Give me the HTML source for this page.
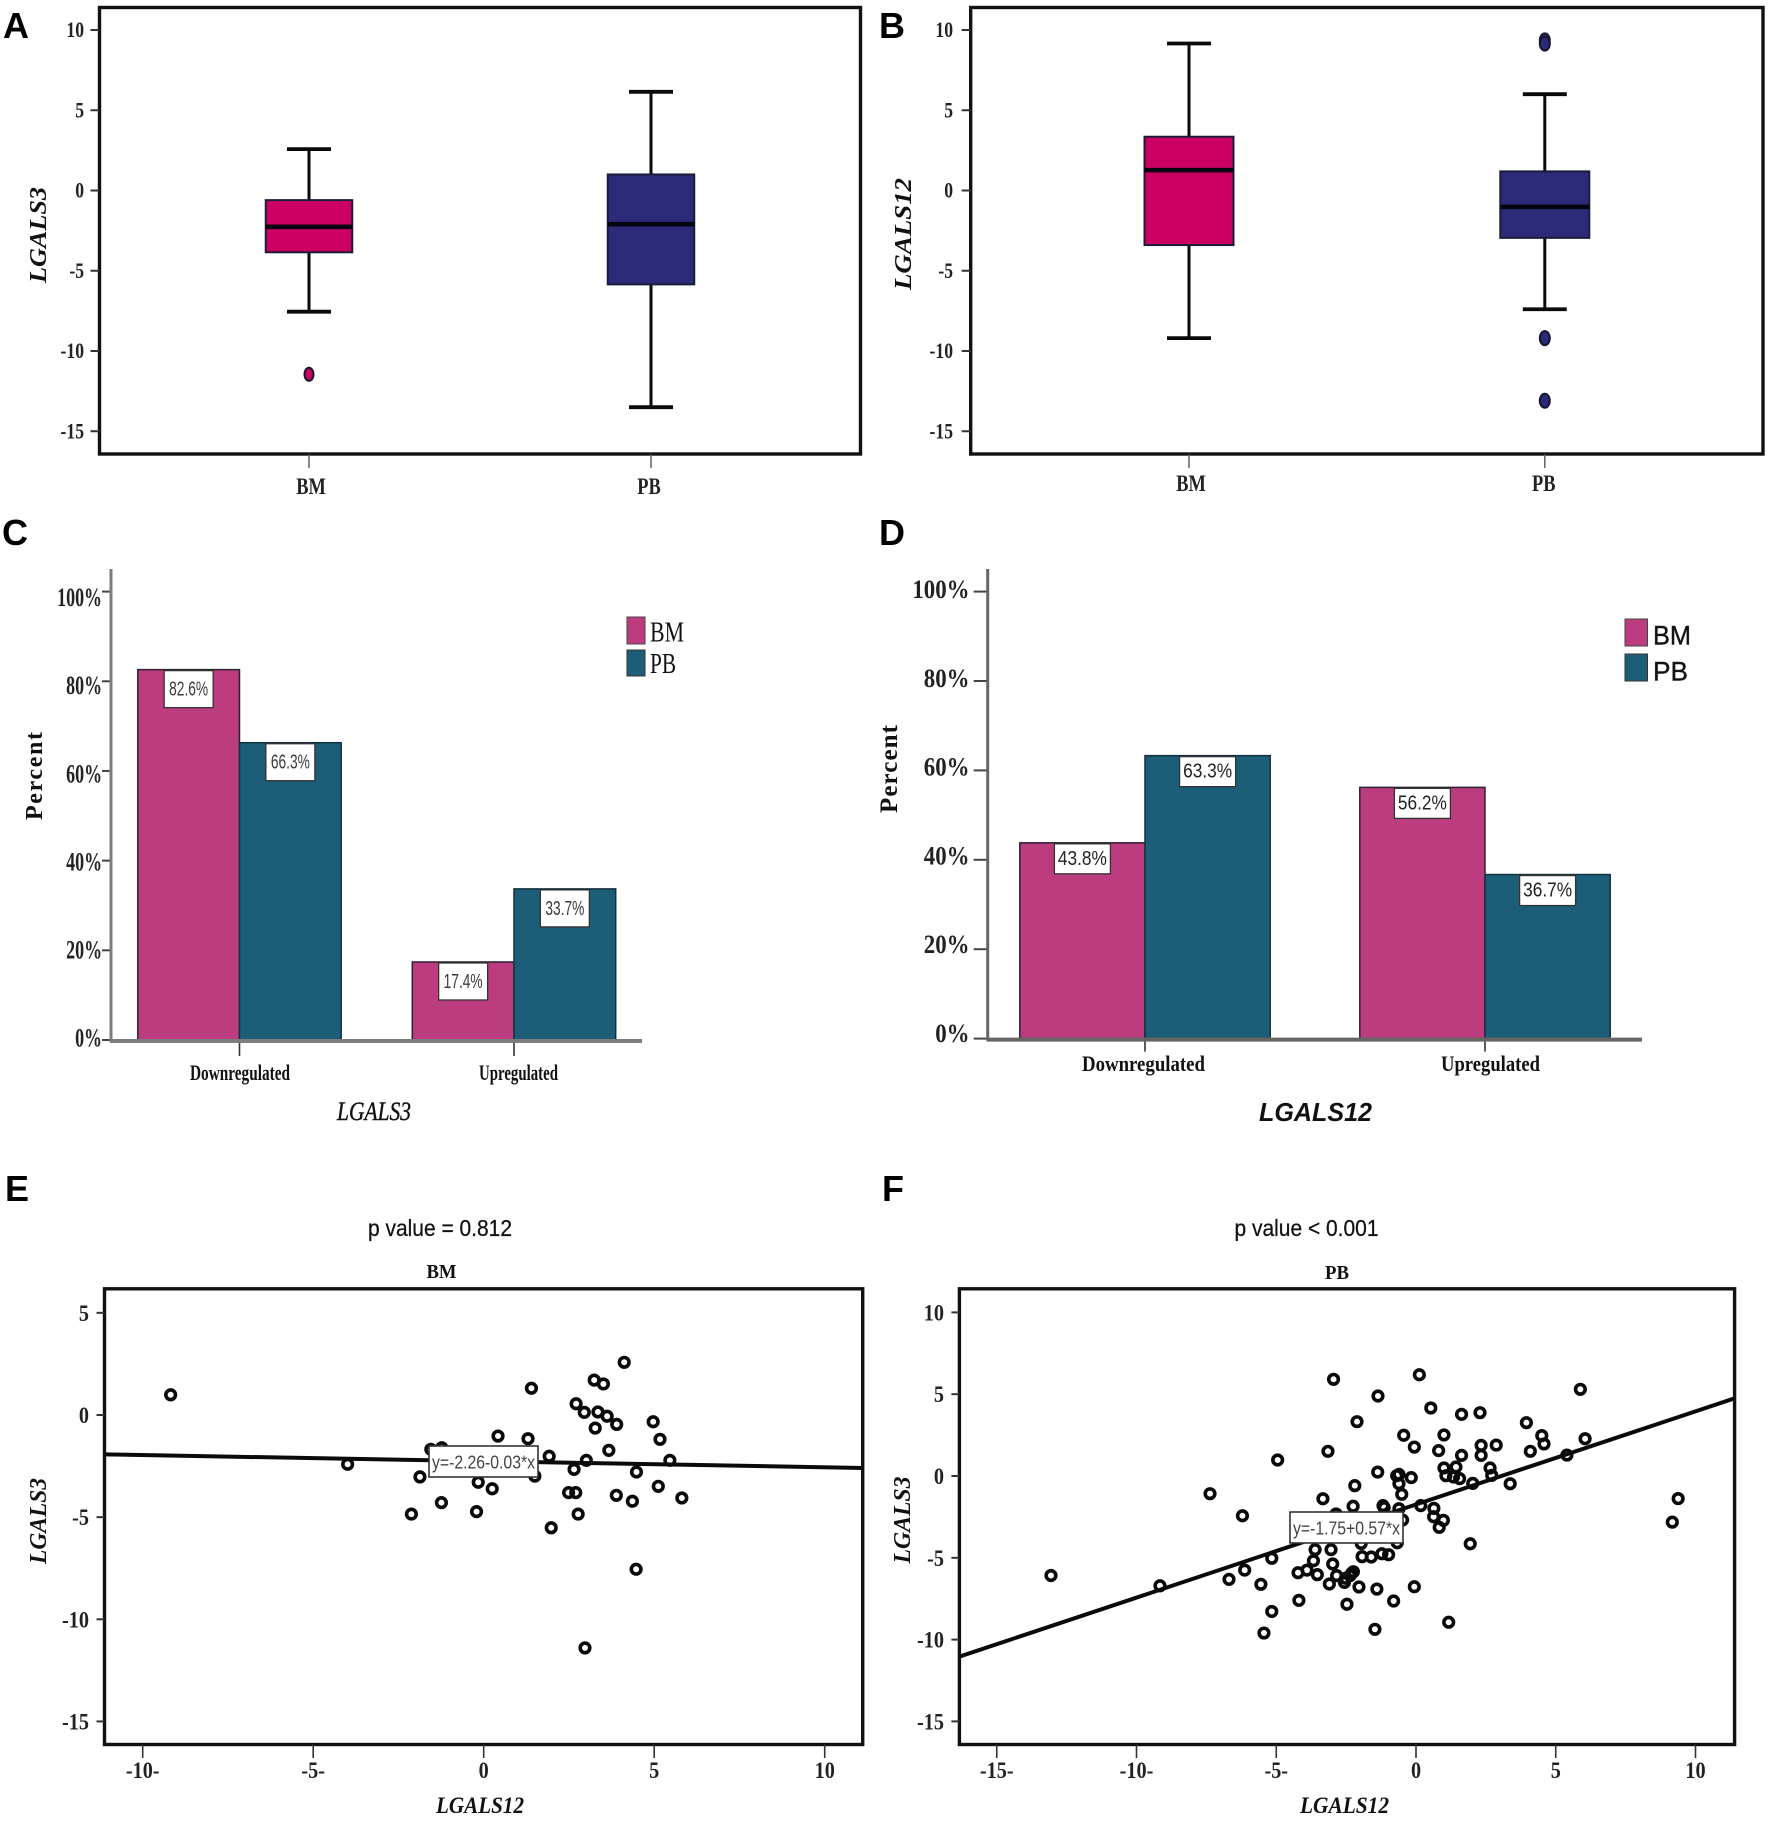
<!DOCTYPE html>
<html lang="en">
<head>
<meta charset="utf-8">
<title>LGALS3 and LGALS12 expression in BM and PB</title>
<style>
html,body{margin:0;padding:0;background:#fff;}
svg{display:block;}
text{font-family:"Liberation Serif",serif;fill:#111;}
.sans{font-family:"Liberation Sans",sans-serif;}
.letter{font-family:"Liberation Sans",sans-serif;font-weight:bold;font-size:36px;fill:#000;}
.frame{fill:none;stroke:#111;stroke-width:3.4;}
.ttl{font-weight:bold;font-style:italic;}
</style>
</head>
<body>
<svg id="figure" xmlns="http://www.w3.org/2000/svg" width="1772" height="1833" viewBox="0 0 1772 1833">
<rect width="1772" height="1833" fill="#fff"/>

<g id="panel-a">
<text class="letter" x="3" y="38">A</text>
<rect class="frame" x="99.5" y="7.5" width="761" height="446.5"/>
<text class="ttl" transform="translate(46 235) rotate(-90)" text-anchor="middle" font-size="24" textLength="96" lengthAdjust="spacingAndGlyphs">LGALS3</text>
</g>

<g id="panel-b">
<text class="letter" x="879" y="38">B</text>
<rect class="frame" x="970.7" y="7.5" width="792.3" height="446.5"/>
<text class="ttl" transform="translate(911 234) rotate(-90)" text-anchor="middle" font-size="24" textLength="112" lengthAdjust="spacingAndGlyphs">LGALS12</text>
</g>

<g id="panel-c">
<text class="letter" x="2" y="545">C</text>
<text transform="translate(42 776) rotate(-90)" text-anchor="middle" font-size="24" font-weight="bold" textLength="88" lengthAdjust="spacing">Percent</text>
<text x="374" y="1120" text-anchor="middle" font-size="26" font-style="italic" stroke="#111" stroke-width="0.4" textLength="74" lengthAdjust="spacingAndGlyphs">LGALS3</text>
<rect x="627" y="617" width="18" height="27" fill="#BC3D7F" stroke="#444" stroke-width="1"/>
<rect x="627" y="650" width="18" height="26" fill="#1C5E78" stroke="#333" stroke-width="1"/>
<text x="650" y="641.5" font-size="28" fill="#222" textLength="34" lengthAdjust="spacingAndGlyphs">BM</text>
<text x="650" y="673" font-size="28" fill="#222" textLength="26" lengthAdjust="spacingAndGlyphs">PB</text>
</g>

<g id="panel-d">
<text class="letter" x="879" y="545">D</text>
<text transform="translate(897 769) rotate(-90)" text-anchor="middle" font-size="25" font-weight="bold" textLength="88" lengthAdjust="spacing">Percent</text>
<text class="sans" x="1315.5" y="1121" text-anchor="middle" font-size="26" font-weight="bold" font-style="italic" fill="#222" textLength="113" lengthAdjust="spacingAndGlyphs">LGALS12</text>
<rect x="1625" y="619" width="22.5" height="27" fill="#BC3D7F" stroke="#444" stroke-width="1"/>
<rect x="1625" y="654" width="22.5" height="27" fill="#1C5E78" stroke="#333" stroke-width="1"/>
<text class="sans" x="1653" y="644.7" font-size="27" fill="#222" stroke="#222" stroke-width="0.4" textLength="38" lengthAdjust="spacingAndGlyphs">BM</text>
<text class="sans" x="1653" y="680.5" font-size="27" fill="#222" stroke="#222" stroke-width="0.4" textLength="35" lengthAdjust="spacingAndGlyphs">PB</text>
</g>

<g id="panel-e">
<text class="letter" x="5" y="1201">E</text>
<text class="sans" x="440" y="1236" text-anchor="middle" font-size="23" fill="#222" stroke="#222" stroke-width="0.3" textLength="144" lengthAdjust="spacingAndGlyphs">p value = 0.812</text>
<text x="441.5" y="1278" text-anchor="middle" font-size="20" font-weight="bold" textLength="30" lengthAdjust="spacingAndGlyphs">BM</text>
<rect class="frame" x="104.5" y="1288.8" width="758.2" height="455.7"/>
<text class="ttl" x="480" y="1813" text-anchor="middle" font-size="23" textLength="88" lengthAdjust="spacingAndGlyphs">LGALS12</text>
<text class="ttl" transform="translate(46 1521) rotate(-90)" text-anchor="middle" font-size="24" textLength="86" lengthAdjust="spacingAndGlyphs">LGALS3</text>
</g>

<g id="panel-f">
<text class="letter" x="882" y="1201">F</text>
<text class="sans" x="1306.5" y="1236" text-anchor="middle" font-size="23" fill="#222" stroke="#222" stroke-width="0.3" textLength="144" lengthAdjust="spacingAndGlyphs">p value &lt; 0.001</text>
<text x="1337" y="1279" text-anchor="middle" font-size="20" font-weight="bold" textLength="24" lengthAdjust="spacingAndGlyphs">PB</text>
<rect class="frame" x="959.4" y="1288.8" width="775.2" height="455.7"/>
<text class="ttl" x="1344.5" y="1813" text-anchor="middle" font-size="23" textLength="89" lengthAdjust="spacingAndGlyphs">LGALS12</text>
<text class="ttl" transform="translate(910 1520) rotate(-90)" text-anchor="middle" font-size="24" textLength="87" lengthAdjust="spacingAndGlyphs">LGALS3</text>
</g>
</svg>

<script>
// ---------- data ----------
const boxCategories = ['BM', 'PB'];
const boxTickValues = [10, 5, 0, -5, -10, -15];
const boxTickLabels = ['10', '5', '0', '-5', '-10', '-15'];

// five-number summaries: low whisker, Q1, median, Q3, high whisker
const panelAStatsBM = [-7.55, -3.85, -2.26, -0.6, 2.58];
const panelAStatsPB = [-13.5, -5.85, -2.1, 1.0, 6.15];
const panelAOutliersBM = [-11.45];
const panelAOutliersPB = [];

const panelBStatsBM = [-9.2, -3.4, 1.27, 3.35, 9.16];
const panelBStatsPB = [-7.4, -2.95, -1.02, 1.19, 6.0];
const panelBOutliersBM = [];
const panelBOutliersPB = [9.35, 9.15, -9.2, -13.1];

const barCategories = ['Downregulated', 'Upregulated'];
const barTickValues = [100, 80, 60, 40, 20, 0];
const barTickLabels = ['100%', '80%', '60%', '40%', '20%', '0%'];
const panelCBM = [82.6, 17.4];
const panelCPB = [66.3, 33.7];
const panelDBM = [43.8, 56.2];
const panelDPB = [63.3, 36.7];

const panelEYTicks = [5, 0, -5, -10, -15];
const panelEYLabels = ['5', '0', '-5', '-10', '-15'];
const panelEXTicks = [-10, -5, 0, 5, 10];
const panelEXLabels = ['-10-', '-5-', '0', '5', '10'];
const panelEFit = [-2.26, -0.03];
const panelEX = [4.12,3.24,3.51,1.40,2.71,2.95,3.35,3.62,3.90,3.27,4.97,5.17,0.42,1.30,-1.55,-1.23,3.67,1.92,3.01,5.46,2.65,4.48,-1.87,1.50,-0.16,0.25,5.12,2.49,2.70,3.89,4.36,5.81,-1.24,-2.12,-0.21,2.77,1.98,4.47,2.97,-9.18,-3.99];
const panelEY = [2.58,1.71,1.52,1.31,0.55,0.13,0.15,-0.06,-0.46,-0.64,-0.33,-1.19,-1.03,-1.16,-1.68,-1.6,-1.73,-2.02,-2.22,-2.22,-2.66,-2.79,-3.03,-2.99,-3.29,-3.61,-3.49,-3.80,-3.80,-3.93,-4.22,-4.06,-4.29,-4.85,-4.73,-4.85,-5.52,-7.55,-11.4,0.99,-2.41];

const panelFYTicks = [10, 5, 0, -5, -10, -15];
const panelFYLabels = ['10', '5', '0', '-5', '-10', '-15'];
const panelFXTicks = [-15, -10, -5, 0, 5, 10];
const panelFXLabels = ['-15-', '-10-', '-5-', '0', '5', '10'];
const panelFFit = [-1.75, 0.57];
const panelFX = [-2.95,0.12,5.88,-1.36,0.53,1.63,2.29,-2.11,3.95,4.50,4.58,1.00,-0.44,6.05,-0.06,2.87,2.33,2.33,0.81,4.09,-3.15,1.63,5.40,-4.95,1.00,1.43,2.65,-1.37,-0.61,-0.69,-0.17,1.07,1.34,1.56,2.71,-0.61,2.03,3.37,-2.19,-0.51,-7.37,-3.33,-1.18,-1.14,-2.25,0.17,-0.61,0.64,0.63,0.98,-0.48,0.83,-6.21,-2.86,1.94,-3.61,-3.04,-1.96,-0.67,-1.93,-1.60,-1.22,-0.98,-5.16,-3.67,-2.98,-6.13,-4.22,-3.90,-3.53,-2.84,-2.24,-2.30,-2.36,-2.52,-2.56,-3.10,-2.04,-1.40,-0.06,-6.69,-5.55,-4.19,-2.47,-0.80,-5.16,-5.44,-1.47,1.17,-13.06,-9.16,9.17,9.38];
const panelFY = [5.91,6.19,5.30,4.89,4.16,3.77,3.87,3.32,3.26,2.47,1.96,2.51,2.49,2.28,1.77,1.89,1.87,1.26,1.55,1.51,1.51,1.26,1.28,0.98,0.49,0.55,0.49,0.24,0.10,0.02,-0.10,0.02,-0.06,-0.16,0.04,-0.47,-0.45,-0.47,-0.59,-1.12,-1.08,-1.39,-1.81,-1.93,-1.85,-1.81,-2.0,-1.98,-2.49,-2.71,-2.69,-3.14,-2.43,-2.32,-4.14,-4.5,-4.5,-4.12,-4.08,-4.93,-4.95,-4.75,-4.81,-5.03,-5.18,-5.38,-5.75,-5.91,-5.75,-6.03,-6.09,-5.85,-5.95,-6.09,-6.25,-6.5,-6.6,-6.78,-6.91,-6.77,-6.32,-6.62,-7.6,-7.84,-7.64,-8.28,-9.6,-9.37,-8.94,-6.08,-6.71,-2.82,-1.38];

// ---------- helpers ----------
const SVG_NS = 'http://www.w3.org/2000/svg';
function svgNode(tag, attrs, parent) {
  const node = document.createElementNS(SVG_NS, tag);
  for (const key in attrs) node.setAttribute(key, attrs[key]);
  parent.appendChild(node);
  return node;
}
function tagMark(el, name) {
  
  
  return el;
}
function line(parent, x1, y1, x2, y2, color, width) {
  return svgNode('line', {x1: x1, y1: y1, x2: x2, y2: y2, stroke: color, 'stroke-width': width}, parent);
}
function label(parent, str, x, y, opts) {
  const sx = opts.sx || 1;
  const el = svgNode('text', {
    transform: 'translate(' + x + ' ' + y + ') scale(' + sx + ' 1)',
    'text-anchor': opts.anchor || 'middle',
    'font-size': opts.size,
    'font-weight': opts.weight || 'bold'
  }, parent);
  if (opts.fill) el.style.fill = opts.fill;
  el.textContent = str;
  return el;
}

// ---------- box plots ----------
function drawBoxPanel(panelId, yScale, xScale, o) {
  const g = document.getElementById(panelId);
  boxTickValues.forEach(function (v, i) {
    const tick = line(g, o.frameLeft - 9, yScale(v), o.frameLeft, yScale(v), '#333', 2);
    tagMark(tick, 'y-tick');
    const tl = label(g, boxTickLabels[i], o.labelRight, yScale(v) + 7, {size: 22, anchor: 'end', sx: 0.8, fill: '#222'});
    tagMark(tl, 'y-tick-label');
  });
  boxCategories.forEach(function (cat, i) {
    const cx = xScale(i);
    const s = o.stats[i];
    const tick = line(g, cx, 454, cx, 468, '#555', 1.4);
    tagMark(tick, 'x-tick');
    const tl = label(g, cat, cx + o.labelShift[i], o.catBaseline, {size: 23, sx: 0.8, fill: '#222'});
    tagMark(tl, 'x-tick-label');
    const whisker = line(g, cx, yScale(s[0]), cx, yScale(s[4]), '#0a0a0a', 3);
    tagMark(whisker, 'whisker-' + cat.toLowerCase());
    const capLow = line(g, cx - 22, yScale(s[0]), cx + 22, yScale(s[0]), '#0a0a0a', 3.8);
    tagMark(capLow, 'whisker-cap-low-' + cat.toLowerCase());
    const capHigh = line(g, cx - 22, yScale(s[4]), cx + 22, yScale(s[4]), '#0a0a0a', 3.8);
    tagMark(capHigh, 'whisker-cap-high-' + cat.toLowerCase());
    const box = svgNode('rect', {
      x: cx - o.boxW / 2, y: yScale(s[3]), width: o.boxW, height: yScale(s[1]) - yScale(s[3]),
      fill: o.colors[i], stroke: '#1c1c3a', 'stroke-width': 2
    }, g);
    tagMark(box, 'box-' + cat.toLowerCase());
    const med = line(g, cx - o.boxW / 2, yScale(s[2]), cx + o.boxW / 2, yScale(s[2]), '#05050f', 4.6);
    tagMark(med, 'median-' + cat.toLowerCase());
    o.outliers[i].forEach(function (v) {
      const dot = svgNode('ellipse', {
        cx: cx, cy: yScale(v), rx: o.rx, ry: o.ry,
        fill: o.colors[i], stroke: '#15152c', 'stroke-width': 2
      }, g);
      tagMark(dot, 'outlier-' + cat.toLowerCase());
    });
  });
}
const boxY = function (v) { return 190.5 - 16.05 * v; };
const boxXA = function (i) { return 309 + 342 * i; };
const boxXB = function (i) { return 1189 + 355.8 * i; };
drawBoxPanel('panel-a', boxY, boxXA, {
  frameLeft: 99.5, labelRight: 84, catBaseline: 494, labelShift: [2, -2], boxW: 86.5, rx: 4.5, ry: 6.5,
  colors: ['#CC0062', '#2B2B7A'], stats: [panelAStatsBM, panelAStatsPB], outliers: [panelAOutliersBM, panelAOutliersPB]
});
drawBoxPanel('panel-b', boxY, boxXB, {
  frameLeft: 970.7, labelRight: 953, catBaseline: 491, labelShift: [2, -1], boxW: 89, rx: 5, ry: 7,
  colors: ['#CC0062', '#2B2B7A'], stats: [panelBStatsBM, panelBStatsPB], outliers: [panelBOutliersBM, panelBOutliersPB]
});

// ---------- bar charts ----------
function drawBarPanel(panelId, yScale, xScale, o) {
  const g = document.getElementById(panelId);
  barTickValues.forEach(function (v, i) {
    const tick = line(g, o.axisX - o.tickLen, yScale(v), o.axisX, yScale(v), '#444', 2);
    tagMark(tick, 'y-tick');
    const tl = label(g, barTickLabels[i], o.labelRight, o.labelY(v), {size: 26, anchor: 'end', sx: o.tickSx, fill: '#222'});
    tagMark(tl, 'y-tick-label');
  });
  barCategories.forEach(function (cat, i) {
    const cx = xScale(i);
    const bmBar = svgNode('rect', {
      x: cx - o.barW, y: yScale(o.bm[i]), width: o.barW, height: yScale(0) - yScale(o.bm[i]),
      fill: '#BC3D7F', stroke: '#2b2230', 'stroke-width': 1.5
    }, g);
    tagMark(bmBar, 'bar-bm-' + cat.toLowerCase());
    const pbBar = svgNode('rect', {
      x: cx, y: yScale(o.pb[i]), width: o.barW, height: yScale(0) - yScale(o.pb[i]),
      fill: '#1C5E78', stroke: '#12303d', 'stroke-width': 1.5
    }, g);
    tagMark(pbBar, 'bar-pb-' + cat.toLowerCase());
    [[o.bm[i], cx - o.barW / 2, 'bm'], [o.pb[i], cx + o.barW / 2, 'pb']].forEach(function (entry) {
      const top = yScale(entry[0]);
      const tag = svgNode('rect', {
        x: entry[1] - o.tagW / 2, y: top + 1, width: o.tagW, height: o.tagH,
        fill: '#fff', stroke: '#333', 'stroke-width': 1.3
      }, g);
      tagMark(tag, 'value-label-box-' + entry[2]);
      const txt = svgNode('text', {
        x: entry[1], y: top + o.tagBase, 'text-anchor': 'middle', 'font-size': o.tagSize,
        textLength: o.tagText, lengthAdjust: 'spacingAndGlyphs'
      }, g);
      txt.setAttribute('class', 'sans');
      txt.style.fill = o.tagFill;
      txt.textContent = entry[0].toFixed(1) + '%';
      tagMark(txt, 'value-label-' + entry[2]);
    });
    const xt = line(g, cx, yScale(0), cx, yScale(0) + o.xTickLen, '#333', 1.6);
    tagMark(xt, 'x-tick');
    const cl = svgNode('text', {
      x: o.catX[i], y: o.catBaseline, 'text-anchor': 'middle', 'font-size': 22, 'font-weight': 'bold',
      textLength: o.catLen[i], lengthAdjust: 'spacingAndGlyphs'
    }, g);
    cl.textContent = cat;
    tagMark(cl, 'x-tick-label');
  });
  const yAxis = line(g, o.axisX, o.axisTop, o.axisX, yScale(0) + 2, o.axisColor, 3);
  tagMark(yAxis, 'y-axis-line');
  const xAxis = line(g, o.axisX - 1, yScale(0) + 1, o.axisEnd, yScale(0) + 1, o.axisColor, 4);
  tagMark(xAxis, 'x-axis-line');
}
const barYC = function (p) { return 1040 - 4.484 * p; };
const barXC = function (i) { return 239.5 + 274.5 * i; };
const barYD = function (p) { return 1038.6 - 4.47 * p; };
const barXD = function (i) { return 1145 + 340 * i; };
drawBarPanel('panel-c', barYC, barXC, {
  axisX: 111, axisTop: 569, axisEnd: 642, tickLen: 9, labelRight: 102, tickSx: 0.69, axisColor: '#7d7d7d',
  labelY: function (p) { return 1046.7 - 4.407 * p; },
  barW: 101.7, bm: panelCBM, pb: panelCPB, tagW: 49, tagH: 37, tagBase: 26, tagSize: 20, tagText: 39, tagFill: '#3a3a3a',
  xTickLen: 16, catX: [240, 518.5], catLen: [100, 79], catBaseline: 1080
});
drawBarPanel('panel-d', barYD, barXD, {
  axisX: 987.7, axisTop: 569, axisEnd: 1642, tickLen: 14, labelRight: 969.5, tickSx: 0.88, axisColor: '#666',
  labelY: function (p) { return 1042 - 4.44 * p; },
  barW: 125.2, bm: panelDBM, pb: panelDPB, tagW: 56, tagH: 30, tagBase: 22, tagSize: 20, tagText: 49, tagFill: '#222',
  xTickLen: 13, catX: [1143.5, 1490.5], catLen: [123, 99], catBaseline: 1071
});

// ---------- scatter plots ----------
function drawScatterPanel(panelId, xScale, yScale, o) {
  const g = document.getElementById(panelId);
  o.yTicks.forEach(function (v, i) {
    const tick = line(g, o.left - 8, yScale(v), o.left, yScale(v), '#333', 2);
    tagMark(tick, 'y-tick');
    const tl = label(g, o.yLabels[i], o.yLabelRight, yScale(v) + 8, {size: 23, anchor: 'end', sx: 0.88, fill: '#222'});
    tagMark(tl, 'y-tick-label');
  });
  o.xTicks.forEach(function (v, i) {
    const tick = line(g, xScale(v), 1744.5, xScale(v), 1758, '#333', 1.6);
    tagMark(tick, 'x-tick');
    const tl = label(g, o.xLabels[i], xScale(v), 1778, {size: 23, sx: 0.88, fill: '#222'});
    tagMark(tl, 'x-tick-label');
  });
  o.xs.forEach(function (xv, i) {
    const dot = svgNode('circle', {
      cx: xScale(xv), cy: yScale(o.ys[i]), r: 4.8, fill: 'none', stroke: '#0a0a0a', 'stroke-width': 3.6
    }, g);
    tagMark(dot, 'scatter-point');
  });
  const fit = line(g, o.left, yScale(o.fit[0] + o.fit[1] * o.xMin), o.right, yScale(o.fit[0] + o.fit[1] * o.xMax), '#0a0a0a', 4);
  tagMark(fit, 'regression-line');
  const box = svgNode('rect', {
    x: o.tag[0], y: o.tag[1], width: o.tag[2], height: o.tag[3], fill: '#fff', stroke: '#333', 'stroke-width': 1.6
  }, g);
  tagMark(box, 'equation-box');
  const eq = svgNode('text', {
    x: o.tag[0] + o.tag[2] / 2, y: o.tag[1] + 22.5, 'text-anchor': 'middle', 'font-size': 18,
    textLength: o.tag[2] - 6, lengthAdjust: 'spacingAndGlyphs'
  }, g);
  eq.setAttribute('class', 'sans');
  eq.style.fill = '#444';
  eq.textContent = o.equation;
  tagMark(eq, 'regression-equation');
}
const xE = function (v) { return 483.7 + 34.1 * v; };
const yE = function (v) { return 1415 - 20.43 * v; };
const xF = function (v) { return 1416 + 27.95 * v; };
const yF = function (v) { return 1476 - 16.36 * v; };
drawScatterPanel('panel-e', xE, yE, {
  left: 104.5, right: 862.7, xMin: -11.1, xMax: 11.1, yLabelRight: 89,
  yTicks: panelEYTicks, yLabels: panelEYLabels, xTicks: panelEXTicks, xLabels: panelEXLabels,
  xs: panelEX, ys: panelEY, fit: panelEFit, tag: [429, 1446, 109, 31], equation: 'y=-2.26-0.03*x'
});
drawScatterPanel('panel-f', xF, yF, {
  left: 959.4, right: 1734.6, xMin: -16.3, xMax: 11.4, yLabelRight: 944,
  yTicks: panelFYTicks, yLabels: panelFYLabels, xTicks: panelFXTicks, xLabels: panelFXLabels,
  xs: panelFX, ys: panelFY, fit: panelFFit, tag: [1290, 1512, 113, 31], equation: 'y=-1.75+0.57*x'
});
</script>
</body>
</html>
